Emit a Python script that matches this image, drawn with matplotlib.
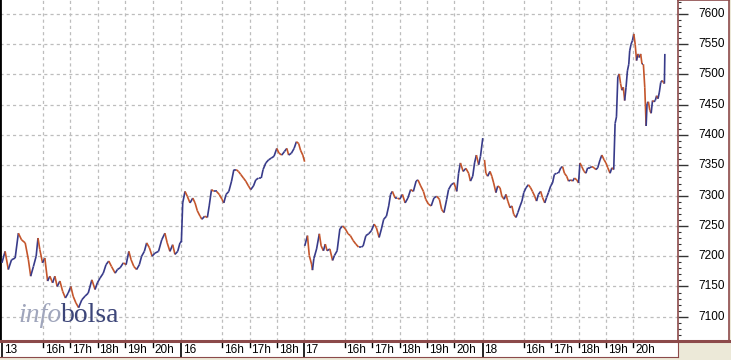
import numpy as np
import matplotlib
matplotlib.use('Agg')
import matplotlib.pyplot as plt
from matplotlib.collections import LineCollection

# minutes after 14:30 and index level for each session
t13 = [0, 7, 14, 21, 29, 36, 43, 51, 58, 63, 69, 75, 79, 83, 89, 94, 100, 105, 111, 116,
       121, 127, 133, 139, 145, 151, 156, 162, 168, 175, 182, 189, 197, 204, 209, 215, 222,
       228, 234, 240, 248, 253, 259, 266, 272, 278, 283, 289, 295, 301, 306, 312, 317, 323,
       329, 335, 343, 350, 357, 362, 368, 374, 379, 385, 390, 394]
v13 = [7189, 7208, 7178, 7194, 7197, 7238, 7227, 7222, 7194, 7167, 7183, 7200, 7230, 7211,
       7189, 7197, 7159, 7167, 7156, 7167, 7150, 7159, 7142, 7131, 7139, 7150, 7134, 7123,
       7115, 7128, 7134, 7139, 7161, 7145, 7156, 7164, 7172, 7186, 7192, 7183, 7172, 7178,
       7181, 7189, 7186, 7208, 7194, 7183, 7178, 7186, 7200, 7208, 7222, 7214, 7200, 7205,
       7208, 7227, 7238, 7222, 7208, 7219, 7203, 7208, 7222, 7225]

t16 = [0, 3, 8, 13, 19, 25, 30, 35, 41, 45, 51, 57, 61, 66, 71, 77, 83, 89, 93, 98, 104,
       110, 115, 120, 125, 130, 136, 141, 147, 152, 158, 163, 169, 175, 179, 185, 191, 197,
       203, 209, 214, 220, 226, 231, 235, 241, 247, 252, 257, 261, 266, 270]
v16 = [7223, 7288, 7307, 7299, 7288, 7296, 7288, 7275, 7266, 7261, 7266, 7264, 7283, 7310,
       7307, 7307, 7302, 7294, 7288, 7302, 7307, 7324, 7343, 7343, 7340, 7335, 7329, 7324,
       7316, 7310, 7316, 7326, 7329, 7329, 7343, 7354, 7359, 7362, 7365, 7378, 7370, 7367,
       7373, 7378, 7367, 7370, 7378, 7389, 7386, 7375, 7367, 7356]

t17 = [2, 8, 12, 17, 19, 22, 28, 34, 38, 43, 47, 51, 57, 63, 67, 73, 79, 85, 91, 97, 102,
       108, 114, 120, 126, 130, 136, 142, 148, 154, 159, 165, 170, 175, 181, 186, 190, 194,
       200, 205, 210, 216, 222, 228, 234, 240, 246, 250, 256, 262, 267, 273, 279, 285, 291,
       297, 302, 307, 313, 317, 323, 329, 335, 339, 343, 349, 355, 361, 365, 370, 374, 378,
       383, 387, 392]
v17 = [7217, 7234, 7201, 7187, 7177, 7196, 7212, 7237, 7217, 7209, 7220, 7209, 7212, 7193,
       7201, 7209, 7245, 7250, 7245, 7237, 7234, 7226, 7220, 7215, 7215, 7217, 7234, 7237,
       7242, 7253, 7247, 7231, 7245, 7261, 7266, 7283, 7302, 7307, 7296, 7296, 7294, 7302,
       7288, 7296, 7310, 7307, 7324, 7326, 7316, 7307, 7294, 7286, 7283, 7296, 7299, 7294,
       7277, 7272, 7294, 7310, 7318, 7321, 7307, 7337, 7354, 7340, 7345, 7337, 7324, 7332,
       7354, 7367, 7351, 7365, 7395]

t18 = [4, 7, 11, 16, 20, 24, 29, 33, 38, 42, 47, 51, 55, 60, 64, 68, 73, 77, 82, 86, 90,
       95, 100, 105, 109, 114, 118, 122, 127, 131, 136, 140, 144, 149, 153, 157, 162, 166,
       171, 175, 179, 184, 188, 193, 197, 201, 206, 210, 213, 217, 222, 226, 230, 235, 239,
       244, 248, 252, 257, 261, 266, 270, 274, 279, 283, 287, 290, 293, 296, 299, 302, 305,
       308, 311, 314, 317, 320, 322, 325, 328, 331, 334, 337, 340, 343, 346, 349, 352, 355,
       358, 360, 363, 366, 369, 372, 375, 378, 381, 384, 387, 390, 393, 396, 398, 399]
v18 = [7359, 7337, 7332, 7340, 7332, 7321, 7305, 7316, 7313, 7299, 7294, 7302, 7291, 7280,
       7283, 7269, 7264, 7272, 7283, 7291, 7305, 7313, 7318, 7313, 7307, 7299, 7291, 7302,
       7307, 7297, 7288, 7297, 7305, 7316, 7321, 7335, 7337, 7337, 7346, 7348, 7337, 7332,
       7324, 7326, 7324, 7329, 7326, 7321, 7354, 7348, 7340, 7337, 7346, 7346, 7348, 7346,
       7343, 7346, 7359, 7367, 7359, 7354, 7346, 7337, 7346, 7343, 7419, 7430, 7496, 7501,
       7485, 7474, 7479, 7457, 7479, 7506, 7517, 7539, 7550, 7556, 7567, 7550, 7523, 7534,
       7528, 7534, 7517, 7517, 7479, 7415, 7452, 7455, 7441, 7436, 7457, 7455, 7457, 7465,
       7460, 7471, 7487, 7490, 7487, 7485, 7534]

days = ['13', '16', '17', '18']
day_start = [0.0, 6.55, 11.02, 17.55]   # session start (14:30) on the compressed hour axis
day_hours = [[16, 17, 18, 19, 20], [16, 17, 18], [16, 17, 18, 19, 20], [16, 17, 18, 19, 20]]
y_ticks = [7100, 7150, 7200, 7250, 7300, 7350, 7400, 7450, 7500, 7550, 7600]

up_col = '#383b8a'
dn_col = '#c4552b'
brown = '#8c4a4a'
grid_col = '#bdbdbd'
x_lim = (-0.07, 24.68)
y_lim = (7060, 7623)

plt.rcParams['font.family'] = ['Liberation Sans', 'DejaVu Sans']

fig = plt.figure(figsize=(7.31, 3.60), dpi=100)
fig.patch.set_facecolor('#ece9d8')
W, H = 731.0, 360.0

ax = fig.add_axes([0, 19 / H, 678 / W, 341 / H])
ax.set_xlim(x_lim)
ax.set_ylim(y_lim)
ax.set_xticks([])
ax.set_yticks([])
for s in ['top', 'right', 'bottom']:
    ax.spines[s].set_visible(False)
ax.spines['left'].set_color('black')
ax.spines['left'].set_linewidth(2)

# grid
for yv in y_ticks:
    ax.axhline(yv, color=grid_col, lw=0.9, dashes=(2.5, 2.5), zorder=0)
for d in range(len(days)):
    if d > 0:
        ax.axvline(day_start[d], color=grid_col, lw=0.9, dashes=(2.5, 2.5), zorder=0)
    for h in day_hours[d]:
        ax.axvline(day_start[d] + h - 14.5, color=grid_col, lw=0.9, dashes=(2.5, 2.5), zorder=0)

# watermark
ax.text(18 / 678, 0.057, 'info', transform=ax.transAxes, fontsize=20, style='italic',
        family='Liberation Serif', color='#a0a6bc', zorder=1)
ax.text(61 / 678, 0.057, 'bolsa', transform=ax.transAxes, fontsize=20,
        family='Liberation Serif', color='#3d4679', zorder=1)

# price series, blue when rising, red when falling
for d, (tt, vv) in enumerate([(t13, v13), (t16, v16), (t17, v17), (t18, v18)]):
    x = day_start[d] + np.array(tt) / 60.0
    y = np.array(vv, dtype=float)
    pts = np.column_stack([x, y]).reshape(-1, 1, 2)
    segs = np.concatenate([pts[:-1], pts[1:]], axis=1)
    cols = [up_col if y[i + 1] >= y[i] else dn_col for i in range(len(y) - 1)]
    ax.add_collection(LineCollection(segs, colors=cols, linewidths=1.2, zorder=3))

# bottom time strip
bx = fig.add_axes([0, 3 / H, 678 / W, 16 / H])
bx.set_xlim(x_lim)
bx.set_ylim(0, 1)
bx.set_xticks([])
bx.set_yticks([])
for s in bx.spines.values():
    s.set_color(brown)
bx.spines['top'].set_linewidth(2.2)
bx.spines['left'].set_visible(False)
for d in range(len(days)):
    x0 = day_start[d]
    bx.plot([x0, x0], [0, 1], color='black', lw=1.2, clip_on=False)
    bx.text(x0 + 0.06, 0.45, days[d], fontsize=8.5, va='center', ha='left')
    for h in day_hours[d]:
        xh = x0 + h - 14.5
        bx.plot([xh, xh], [0.62, 1], color='black', lw=1)
        bx.text(xh + 0.06, 0.45, '%dh' % h, fontsize=8.5, va='center', ha='left')

# right price scale
rx = fig.add_axes([678 / W, 19 / H, 51 / W, 341 / H])
rx.set_ylim(y_lim)
rx.set_xlim(0, 1)
rx.set_xticks([])
for s in rx.spines.values():
    s.set_color(brown)
    s.set_linewidth(1.2)
rx.spines['bottom'].set_linewidth(2.2)
rx.set_yticks(y_ticks)
rx.set_yticks(np.arange(7070, 7621, 10), minor=True)
rx.tick_params(axis='y', which='major', direction='in', length=7, width=1, color='#333333',
               labelleft=False)
rx.tick_params(axis='y', which='minor', direction='in', length=2.5, width=0.8, color='#333333')
for yv in y_ticks:
    rx.text(0.92, yv, str(yv), fontsize=8.5, va='center', ha='right')

fig.savefig('out.png', dpi=100, facecolor=fig.get_facecolor())
